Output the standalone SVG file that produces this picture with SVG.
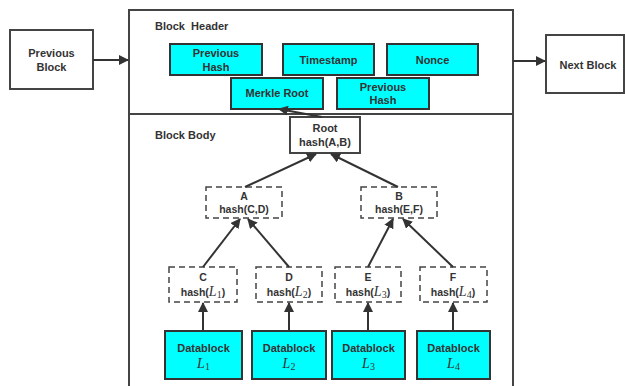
<svg xmlns="http://www.w3.org/2000/svg" width="625" height="386" viewBox="0 0 625 386">
<style>
.box{fill:#fff;stroke:#444;stroke-width:2}
.cy{fill:#00ffff;stroke:#333;stroke-width:2}
.dash{fill:#fff;stroke:#444;stroke-width:1.5;stroke-dasharray:6 4}
.t{font-family:"Liberation Sans",Arial,sans-serif;font-weight:bold;font-size:11px;fill:#333;text-anchor:middle}
.tl{font-family:"Liberation Sans",Arial,sans-serif;font-weight:bold;font-size:11px;fill:#333}
.sm{font-size:10.5px}
.m{font-family:"Liberation Serif","DejaVu Serif",serif;font-style:italic;font-weight:normal;font-size:14px}
.s{font-family:"Liberation Serif","DejaVu Serif",serif;font-style:normal;font-weight:normal;font-size:10px}
.c{fill:none;stroke:#333;stroke-width:2}
</style>
<defs>
<marker id="ah" viewBox="0 0 10 10" refX="9" refY="5" markerWidth="5" markerHeight="5" orient="auto" markerUnits="strokeWidth">
<path d="M0,0 L10,5 L0,10 z" fill="#333"/>
</marker>
</defs>
<rect width="625" height="386" fill="#fff"/>
<g id="block">
<rect x="129" y="10" width="384" height="390" class="box"/>
<line x1="129" y1="114" x2="513" y2="114" stroke="#444" stroke-width="2"/>
<text x="155" y="30" class="tl" xml:space="preserve">Block  Header</text>
<text x="155" y="139" class="tl">Block Body</text>
</g>
<g id="prev-block"><rect x="10" y="30" width="83" height="59" class="box"/><text x="51.5" y="57" class="t">Previous</text><text x="51.5" y="71" class="t">Block</text></g>
<g id="next-block"><rect x="546" y="35" width="78" height="58" class="box"/><text x="588" y="69" class="t">Next Block</text></g>
<g id="h-prevhash"><rect x="170" y="44" width="92" height="31" class="cy"/><text x="216" y="57" class="t">Previous</text><text x="216" y="70.5" class="t">Hash</text></g>
<g id="h-timestamp"><rect x="283" y="44" width="91" height="31" class="cy"/><text x="328.5" y="64" class="t">Timestamp</text></g>
<g id="h-nonce"><rect x="387" y="44" width="91" height="31" class="cy"/><text x="432.5" y="64" class="t">Nonce</text></g>
<g id="h-merkle"><rect x="231" y="78" width="92" height="31" class="cy"/><text x="277" y="97" class="t">Merkle Root</text></g>
<g id="h-prevhash2"><rect x="337" y="78" width="92" height="31" class="cy"/><text x="383" y="90.5" class="t">Previous</text><text x="383" y="104" class="t">Hash</text></g>
<g id="root"><rect x="290" y="117" width="70" height="36" class="box"/><text x="325" y="132" class="t">Root</text><text x="325" y="146" class="t">hash(A,B)</text></g>
<g id="A"><rect x="206" y="187" width="76" height="31" class="dash"/><text x="244" y="200" class="t sm">A</text><text x="244" y="213" class="t sm">hash(C,D)</text></g>
<g id="B"><rect x="361" y="187" width="76" height="31" class="dash"/><text x="399" y="200" class="t sm">B</text><text x="399" y="213" class="t sm">hash(E,F)</text></g>
<g id="C"><rect x="169" y="267" width="68" height="35" class="dash"/><text x="203" y="281" class="t sm">C</text><text x="203" y="296" class="t sm">hash(<tspan class="m">L</tspan><tspan class="s" dy="2">1</tspan><tspan dy="-2">)</tspan></text></g>
<g id="D"><rect x="256" y="267" width="66" height="35" class="dash"/><text x="289" y="281" class="t sm">D</text><text x="289" y="296" class="t sm">hash(<tspan class="m">L</tspan><tspan class="s" dy="2">2</tspan><tspan dy="-2">)</tspan></text></g>
<g id="E"><rect x="335" y="267" width="66" height="35" class="dash"/><text x="368" y="281" class="t sm">E</text><text x="368" y="296" class="t sm">hash(<tspan class="m">L</tspan><tspan class="s" dy="2">3</tspan><tspan dy="-2">)</tspan></text></g>
<g id="F"><rect x="420" y="267" width="67" height="35" class="dash"/><text x="453" y="281" class="t sm">F</text><text x="453" y="296" class="t sm">hash(<tspan class="m">L</tspan><tspan class="s" dy="2">4</tspan><tspan dy="-2">)</tspan></text></g>
<g id="L1"><rect x="165" y="331" width="77" height="48" class="cy"/><text x="203.5" y="352" class="t">Datablock</text><text x="203.5" y="368" class="t"><tspan class="m">L</tspan><tspan class="s" dy="2">1</tspan></text></g>
<g id="L2"><rect x="252" y="331" width="74" height="48" class="cy"/><text x="289" y="352" class="t">Datablock</text><text x="289" y="368" class="t"><tspan class="m">L</tspan><tspan class="s" dy="2">2</tspan></text></g>
<g id="L3"><rect x="332" y="331" width="73" height="48" class="cy"/><text x="368.5" y="352" class="t">Datablock</text><text x="368.5" y="368" class="t"><tspan class="m">L</tspan><tspan class="s" dy="2">3</tspan></text></g>
<g id="L4"><rect x="417" y="331" width="73" height="48" class="cy"/><text x="453.5" y="352" class="t">Datablock</text><text x="453.5" y="368" class="t"><tspan class="m">L</tspan><tspan class="s" dy="2">4</tspan></text></g>
<g id="connectors">
<line x1="93" y1="60" x2="128" y2="60" class="c" marker-end="url(#ah)"/>
<line x1="513" y1="61" x2="545" y2="61" class="c" marker-end="url(#ah)"/>
<line x1="322" y1="117" x2="279" y2="109" class="c" marker-end="url(#ah)"/>
<line x1="245" y1="187" x2="316" y2="154" class="c" marker-end="url(#ah)"/>
<line x1="398" y1="187" x2="331" y2="154" class="c" marker-end="url(#ah)"/>
<line x1="203" y1="267" x2="240" y2="219" class="c" marker-end="url(#ah)"/>
<line x1="289" y1="267" x2="248" y2="219" class="c" marker-end="url(#ah)"/>
<line x1="368" y1="267" x2="393" y2="219" class="c" marker-end="url(#ah)"/>
<line x1="453" y1="267" x2="403" y2="219" class="c" marker-end="url(#ah)"/>
<line x1="203" y1="331" x2="203" y2="303" class="c" marker-end="url(#ah)"/>
<line x1="289" y1="331" x2="289" y2="303" class="c" marker-end="url(#ah)"/>
<line x1="368" y1="331" x2="368" y2="303" class="c" marker-end="url(#ah)"/>
<line x1="453" y1="331" x2="453" y2="303" class="c" marker-end="url(#ah)"/>
</g>
</svg>
